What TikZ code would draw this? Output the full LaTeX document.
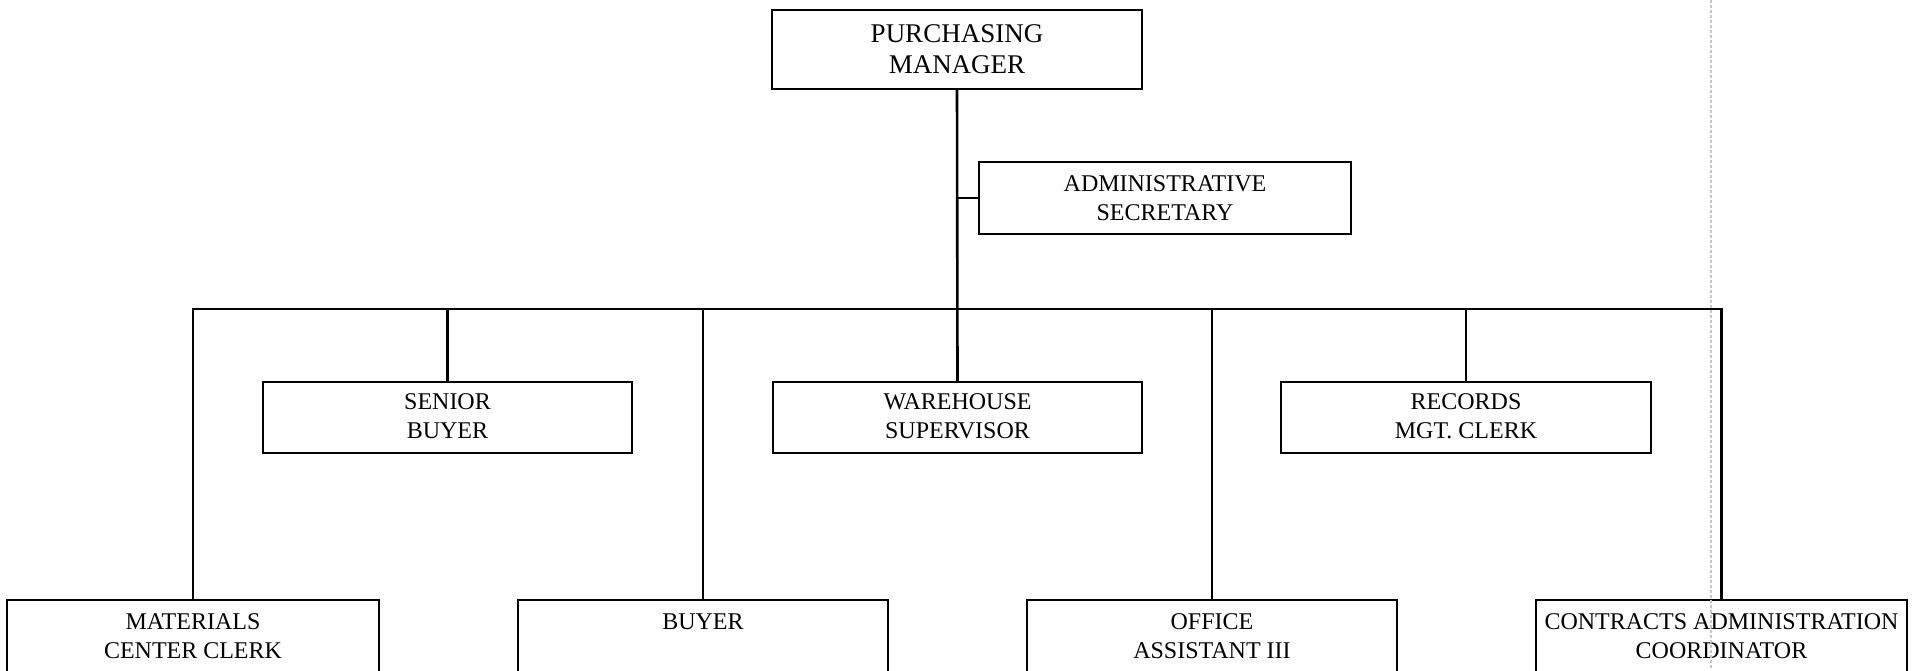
\documentclass[tikz,border=0pt]{standalone}
\usepackage{fontspec}
\setmainfont{Liberation Serif}
% text block of a post: width, height, gap above the first line, lines
\newcommand{\orgcell}[4]{\parbox[c][#2][t]{#1}{\centering\vspace*{#3}#4\par}}
\begin{document}
\begin{tikzpicture}[x=0.5pt,y=-0.5pt,
  post/.style={draw, line width=1.4pt, inner sep=0pt, outer sep=0pt,
    anchor=north west, font=\fontsize{12pt}{14.5pt}\selectfont},
  head/.style={post, font=\fontsize{13.5pt}{15.5pt}\selectfont},
  link/.style={line width=1.3pt},
  crease/.style={gray!45, line width=0.8pt, dash pattern=on 1.5pt off 1pt}]
\useasboundingbox (0,0) rectangle (1917,670);
\clip (0,0) rectangle (1917,670);

% top of the chart
\node[head] (pm) at (772,10) {\orgcell{185pt}{39.5pt}{7.5pt}{PURCHASING\\MANAGER}};
\node[post] (admin) at (979,162) {\orgcell{186pt}{36pt}{6.8pt}{ADMINISTRATIVE\\SECRETARY}};

% middle row
\node[post] (sb) at (263,382) {\orgcell{184.5pt}{35.5pt}{6pt}{SENIOR\\BUYER}};
\node[post] (wh) at (773,382) {\orgcell{184.5pt}{35.5pt}{6pt}{WAREHOUSE\\SUPERVISOR}};
\node[post] (rc) at (1281,382) {\orgcell{185pt}{35.5pt}{6pt}{RECORDS\\MGT. CLERK}};

% bottom row (runs off the lower edge)
\node[post] (mc) at (7,600) {\orgcell{186pt}{40pt}{6.8pt}{MATERIALS\\CENTER CLERK}};
\node[post] (bu) at (518,600) {\orgcell{185pt}{40pt}{6.8pt}{BUYER\\\strut}};
\node[post] (oa) at (1027,600) {\orgcell{185pt}{40pt}{6.8pt}{OFFICE\\ASSISTANT III}};
\node[post] (ca) at (1536,600) {\orgcell{185.5pt}{40pt}{6.8pt}{CONTRACTS ADMINISTRATION\\COORDINATOR}};

% reporting lines
\coordinate (bus) at (0,309);
\draw[link] (pm.south) -- (wh.north);
\draw[link] (admin.west) -- (admin.west -| pm.south);
\draw[link] (mc.north) -- (mc.north |- bus) -- (ca.north |- bus) -- (ca.north);
\foreach \n in {sb,bu,oa,rc}
  \draw[link] (\n.north) -- (\n.north |- bus);

% faint fold line of the sheet
\draw[crease] (1711,0) -- (1711,670);
\end{tikzpicture}
\end{document}
